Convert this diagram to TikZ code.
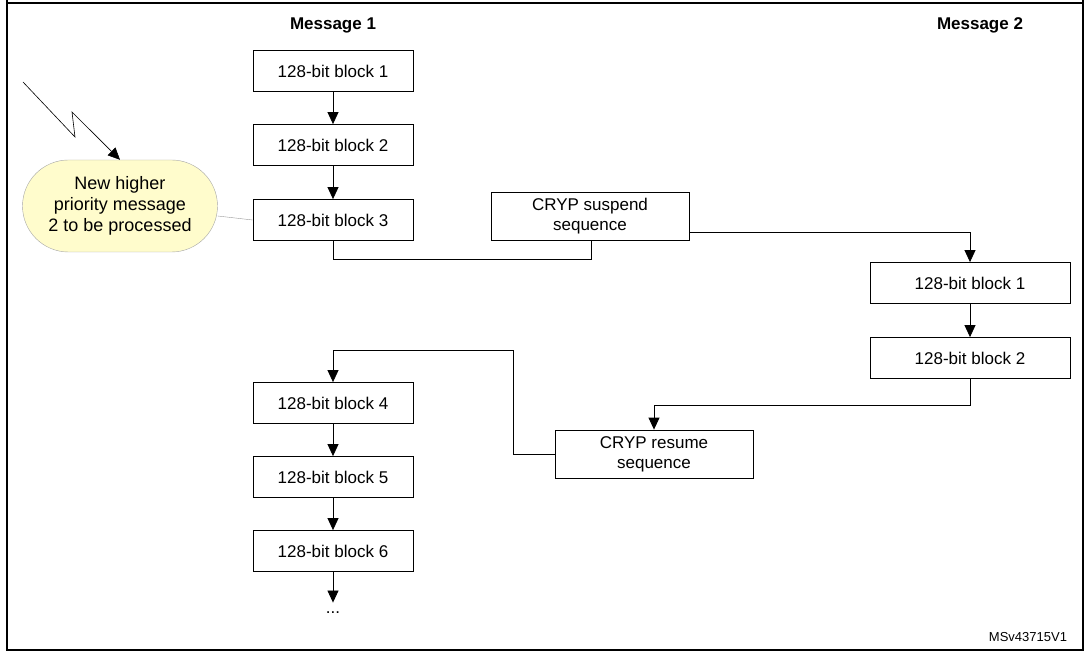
\documentclass[tikz,border=0pt]{standalone}
\usepackage{fontspec}
\setmainfont{Liberation Sans}
\usetikzlibrary{arrows.meta}
\begin{document}
\begin{tikzpicture}[x=1pt,y=-1pt,
  blk/.style={draw,thick,minimum width=160pt,minimum height=41pt,font=\fontsize{17}{20}\selectfont,inner sep=0pt},
  seq/.style={draw,thick,minimum width=198pt,minimum height=46pt,align=center,font=\fontsize{17}{20}\selectfont,inner sep=0pt},
  lbl/.style={font=\bfseries\fontsize{17}{20}\selectfont},
  arr/.style={thick,-{Triangle[length=12pt,width=11pt]}},
  ln/.style={thick}]
\useasboundingbox (0,0) rectangle (1087,652);
\draw[line width=1.5pt] (7,-5) -- (7,650) -- (1083,650) -- (1083,-5);
\draw[line width=1.5pt] (7,3) -- (1083,3);
\node[lbl] (m1) at (333,25) {Message 1};
\node[lbl] (m2) at (980,25) {Message 2};
\node[blk] (b1) at (333,71) {128-bit block 1};
\node[blk] (b2) at (333,145) {128-bit block 2};
\node[blk] (b3) at (333,220) {128-bit block 3};
\node[seq,minimum height=48pt] (sus) at (590,216) {CRYP suspend\\sequence};
\node[blk,minimum width=200pt] (c1) at (970,283) {128-bit block 1};
\node[blk,minimum width=200pt] (c2) at (970,358) {128-bit block 2};
\node[seq,minimum height=48pt] (res) at (654,454) {CRYP resume\\sequence};
\node[blk] (b4) at (333,403) {128-bit block 4};
\node[blk] (b5) at (333,477) {128-bit block 5};
\node[blk] (b6) at (333,551) {128-bit block 6};
\node[font=\fontsize{17}{20}\selectfont] (dots) at (333,613) {...};
\node[draw=gray!70,fill=yellow!20,rounded corners=46pt,minimum width=195pt,minimum height=92pt,align=center,font=\fontsize{18}{21}\selectfont,inner sep=0pt] (call) at (120,206) {New higher\\priority message\\2 to be processed};
\node[font=\fontsize{13}{15}\selectfont] (id) at (1028,637) {MSv43715V1};
\coordinate (z0) at (23,82);
\coordinate (z1) at (75,137);
\coordinate (z2) at (72,112);
\draw[arr,semithick] (z0) -- (z1) -- (z2) -- (call.north);
\draw[gray!80] (call.east |- 0,216) -- (b3.west);
\draw[arr] (b1) -- (b2);
\draw[arr] (b2) -- (b3);
\draw[ln] (b3.south) -- ++(0,19) -| ([xshift=1pt]sus.south);
\draw[arr] ([yshift=-16pt]sus.east) -| (c1.north);
\draw[arr] (c1) -- (c2);
\draw[arr] (c2.south) -- ++(0,26) -| (res.north);
\draw[arr] (res.west) -- ++(-41,0) |- (333,350) -- (b4.north);
\draw[arr] (b4) -- (b5);
\draw[arr] (b5) -- (b6);
\draw[arr] (b6.south) -- ([yshift=6pt]dots.north);
\end{tikzpicture}
\end{document}
